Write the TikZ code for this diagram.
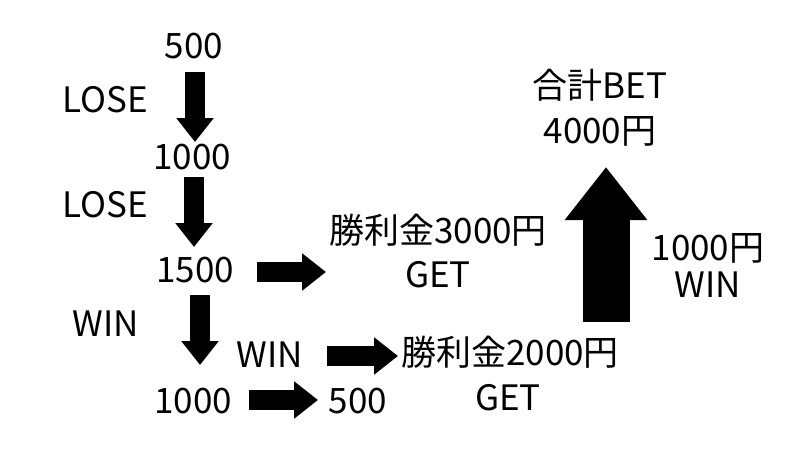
\documentclass[tikz,border=0pt]{standalone}
\usepackage{fontspec}
\setmainfont{Noto Sans CJK JP}
\usetikzlibrary{arrows.meta}

\begin{document}
\begin{tikzpicture}[x=1pt,y=-1pt]
\tikzstyle{txt}=[anchor=base,inner sep=0pt,font=\fontsize{35}{42}\selectfont]
\tikzstyle{blk}=[draw,line width=20pt,-{Triangle[width=36pt,length=24pt]}]
\tikzstyle{big}=[draw,line width=47pt,-{Triangle[width=79pt,length=53pt]}]

\useasboundingbox (0,0) rectangle (800,450);

% left column
\node[txt] (s500) at (194,58) {500};
\node[txt] (lose1) at (105,112) {LOSE};
\node[txt] (s1000) at (192,169) {1000};
\node[txt] (lose2) at (105,217) {LOSE};
\node[txt] (s1500) at (195,282) {1500};
\node[txt] (winl) at (106,336) {WIN};
\node[txt] (e1000) at (193,413) {1000};
\node[txt] (e500) at (358,413) {500};
\node[txt] (winm) at (270,367) {WIN};

% winnings
\node[txt] (get3) at (438,243) {勝利金3000円};
\node[txt] (get3b) at (438,287) {GET};
\node[txt] (get2) at (510,365) {勝利金2000円};
\node[txt] (get2b) at (508,410) {GET};

% total
\node[txt] (tot) at (600,98) {合計BET};
\node[txt] (totb) at (600,143) {4000円};
\node[txt] (wr) at (708,260) {1000円};
\node[txt] (wrb) at (708,297) {WIN};

% arrow ends
\coordinate (a1) at (195,72);  \coordinate (b1) at (195,142);
\coordinate (a2) at (194,177); \coordinate (b2) at (194,247);
\coordinate (a3) at (200,295); \coordinate (b3) at (200,365);
\coordinate (a4) at (257,272); \coordinate (b4) at (326,272);
\coordinate (a5) at (327,356); \coordinate (b5) at (398,356);
\coordinate (a6) at (249,400); \coordinate (b6) at (318,400);
\coordinate (a7) at (606,322); \coordinate (b7) at (606,167);

\draw[blk] (a1) -- (b1);
\draw[blk] (a2) -- (b2);
\draw[blk] (a3) -- (b3);
\draw[blk] (a4) -- (b4);
\draw[blk] (a5) -- (b5);
\draw[blk] (a6) -- (b6);
\draw[big] (a7) -- (b7);

\end{tikzpicture}
\end{document}
